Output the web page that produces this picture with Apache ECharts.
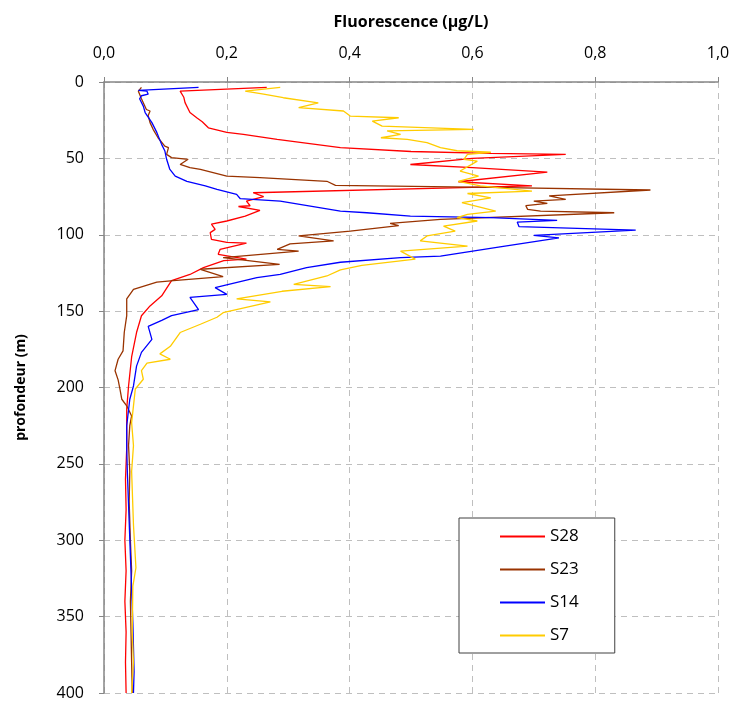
<!DOCTYPE html>
<html>
<head>
<meta charset="utf-8">
<script src="https://cdn.jsdelivr.net/npm/echarts@6/dist/echarts.min.js"></script>
<style>
  html, body { margin: 0; padding: 0; background: #fff; }
  #chart { width: 734px; height: 701px; }
</style>
</head>
<body>
<div id="chart"></div>
<script>
// profils de fluorescence : [valeur (µg/L), profondeur (m)]
const s28 = [
  [0.265, 3.5], [0.124, 6], [0.127, 7], [0.130, 10], [0.132, 13.5], [0.140, 20], [0.151, 23.4],
  [0.160, 26], [0.170, 30], [0.200, 33], [0.227, 34.3], [0.282, 37.6], [0.385, 43], [0.500, 45.5],
  [0.630, 46.7], [0.752, 47.4], [0.600, 50], [0.499, 54], [0.600, 56], [0.722, 59], [0.577, 65.3],
  [0.697, 68], [0.243, 72.5], [0.260, 75], [0.232, 78], [0.238, 81], [0.219, 81.5], [0.254, 84],
  [0.230, 87.8], [0.200, 91], [0.175, 93], [0.181, 96.5], [0.173, 98.6], [0.175, 103], [0.200, 105],
  [0.232, 105.5], [0.189, 109.6], [0.186, 112.8], [0.232, 116], [0.195, 117], [0.162, 121.5],
  [0.140, 126], [0.110, 130], [0.094, 140], [0.075, 146.6], [0.061, 153], [0.053, 164], [0.045, 180],
  [0.040, 199], [0.037, 214], [0.037, 240], [0.035, 260], [0.036, 280], [0.034, 300], [0.036, 320],
  [0.034, 340], [0.036, 360], [0.035, 380], [0.036, 400]
];
const s23 = [
  [0.061, 3.5], [0.056, 6], [0.061, 11], [0.069, 18], [0.075, 19], [0.072, 22], [0.075, 26.6],
  [0.080, 31], [0.088, 36.5], [0.099, 42], [0.105, 43], [0.102, 47.4], [0.110, 49.5], [0.137, 50.6],
  [0.124, 54], [0.140, 56], [0.157, 57.2], [0.200, 61.6], [0.254, 62.6], [0.363, 65], [0.377, 67.7],
  [0.630, 69], [0.890, 70.7], [0.725, 74.6], [0.752, 76.8], [0.700, 78], [0.722, 79.5], [0.687, 81],
  [0.690, 83.4], [0.711, 84.5], [0.831, 85.6], [0.548, 90], [0.466, 92.6], [0.480, 94], [0.401, 97.6],
  [0.317, 100.8], [0.374, 104], [0.303, 106], [0.282, 109.6], [0.317, 110.7], [0.194, 115],
  [0.286, 119.4], [0.157, 122.6], [0.194, 127.4], [0.113, 130], [0.086, 131], [0.048, 135.7],
  [0.037, 142], [0.037, 153], [0.033, 164], [0.031, 176], [0.023, 181.5], [0.018, 189], [0.023, 195],
  [0.026, 201], [0.029, 207.7], [0.037, 212], [0.045, 218.6], [0.042, 225], [0.040, 238], [0.042, 255],
  [0.041, 275], [0.043, 300], [0.045, 320], [0.043, 340], [0.044, 360], [0.045, 380], [0.046, 400]
];
const s14 = [
  [0.154, 3.5], [0.056, 5.5], [0.070, 6], [0.072, 8], [0.061, 9], [0.058, 11], [0.064, 15.8],
  [0.067, 20], [0.078, 26.6], [0.086, 33], [0.094, 41], [0.099, 45], [0.102, 50.6], [0.107, 57],
  [0.116, 61.6], [0.135, 65], [0.165, 68], [0.184, 70.3], [0.216, 73.6], [0.222, 76.4], [0.287, 78],
  [0.385, 84.5], [0.428, 85.6], [0.499, 87.8], [0.630, 88.8], [0.738, 90.6], [0.673, 91.7],
  [0.676, 94.7], [0.866, 97], [0.700, 100.4], [0.741, 102], [0.645, 108], [0.548, 114], [0.483, 115],
  [0.385, 118], [0.330, 121.5], [0.287, 126], [0.249, 128], [0.181, 134.6], [0.200, 139], [0.140, 141],
  [0.154, 149], [0.110, 153], [0.094, 156], [0.072, 160], [0.078, 168.5], [0.061, 177], [0.053, 186],
  [0.048, 199], [0.042, 207.7], [0.037, 225], [0.037, 240], [0.038, 255], [0.041, 288], [0.044, 321],
  [0.047, 354], [0.049, 386], [0.048, 400]
];
const s7 = [
  [0.287, 3.5], [0.230, 6], [0.260, 8], [0.292, 10.3], [0.349, 13.6], [0.317, 16.8], [0.390, 19],
  [0.401, 22.3], [0.480, 23.4], [0.437, 25.6], [0.453, 28.9], [0.602, 31], [0.461, 32], [0.483, 34.3],
  [0.451, 36.5], [0.494, 37.6], [0.526, 39.7], [0.548, 43], [0.575, 45], [0.630, 46], [0.592, 47.4],
  [0.586, 50.6], [0.608, 51.8], [0.580, 58.3], [0.610, 61.6], [0.577, 65], [0.613, 68], [0.697, 71.4],
  [0.592, 73], [0.630, 75.8], [0.583, 79], [0.638, 84.5], [0.592, 86.6], [0.575, 88.8], [0.608, 91],
  [0.553, 94.3], [0.572, 97.6], [0.526, 100.8], [0.515, 104], [0.592, 107.4], [0.483, 110.7],
  [0.507, 116], [0.420, 120], [0.385, 123], [0.363, 127], [0.309, 132.5], [0.369, 134], [0.290, 137],
  [0.216, 142], [0.271, 144], [0.194, 151], [0.184, 154], [0.157, 158.6], [0.124, 164], [0.108, 173],
  [0.091, 178], [0.108, 181.5], [0.070, 184], [0.061, 189], [0.064, 194.6], [0.051, 201], [0.048, 212],
  [0.045, 223], [0.048, 238], [0.051, 239], [0.045, 255], [0.048, 290], [0.052, 318], [0.047, 330],
  [0.046, 360], [0.048, 380], [0.045, 400]
];

const names = ['S28', 'S23', 'S14', 'S7'];
const profiles = [s28, s23, s14, s7];
const colors = ['#ff0000', '#993300', '#0000ff', '#ffcc00'];

const font = 'Open Sans';
const grille = { show: true, lineStyle: { color: '#bfbfbf', type: [6, 5] } };
const axe = { show: true, lineStyle: { color: '#868686', width: 1.5 } };

const chart = echarts.init(document.getElementById('chart'));
chart.setOption({
  animation: false,
  textStyle: { fontFamily: font },
  grid: { left: 104, right: 16, top: 82, bottom: 8 },
  legend: {
    orient: 'vertical',
    left: 459,
    top: 518,
    padding: [10, 36, 9, 40],
    itemWidth: 45,
    itemHeight: 14,
    itemGap: 16,
    borderColor: '#404040',
    borderWidth: 1,
    backgroundColor: '#fff',
    itemStyle: { opacity: 0 },
    textStyle: { fontSize: 17, color: '#000', fontFamily: font },
    data: names
  },
  xAxis: {
    type: 'value',
    position: 'top',
    min: 0,
    max: 1,
    interval: 0.2,
    name: 'Fluorescence (µg/L)',
    nameLocation: 'middle',
    nameGap: 52,
    nameTextStyle: { fontSize: 16, fontWeight: 'bold', color: '#000', fontFamily: font },
    axisLine: axe,
    axisTick: { show: true, length: 5, lineStyle: { color: '#868686' } },
    axisLabel: {
      fontSize: 16, color: '#000', margin: 21,
      formatter: v => v.toFixed(1).replace('.', ',')
    },
    splitLine: grille
  },
  yAxis: {
    type: 'value',
    inverse: true,
    min: 0,
    max: 400,
    interval: 50,
    name: 'profondeur (m)',
    nameLocation: 'middle',
    nameGap: 76,
    nameTextStyle: { fontSize: 14, fontWeight: 'bold', color: '#000', fontFamily: font },
    axisLine: axe,
    axisTick: { show: true, length: 5, lineStyle: { color: '#868686' } },
    axisLabel: { fontSize: 16, color: '#000', margin: 20 },
    splitLine: grille
  },
  series: profiles.map((d, i) => ({
    name: names[i],
    type: 'line',
    data: d,
    symbol: 'none',
    color: colors[i],
    lineStyle: { color: colors[i], width: 1.3 }
  }))
});
</script>
</body>
</html>
